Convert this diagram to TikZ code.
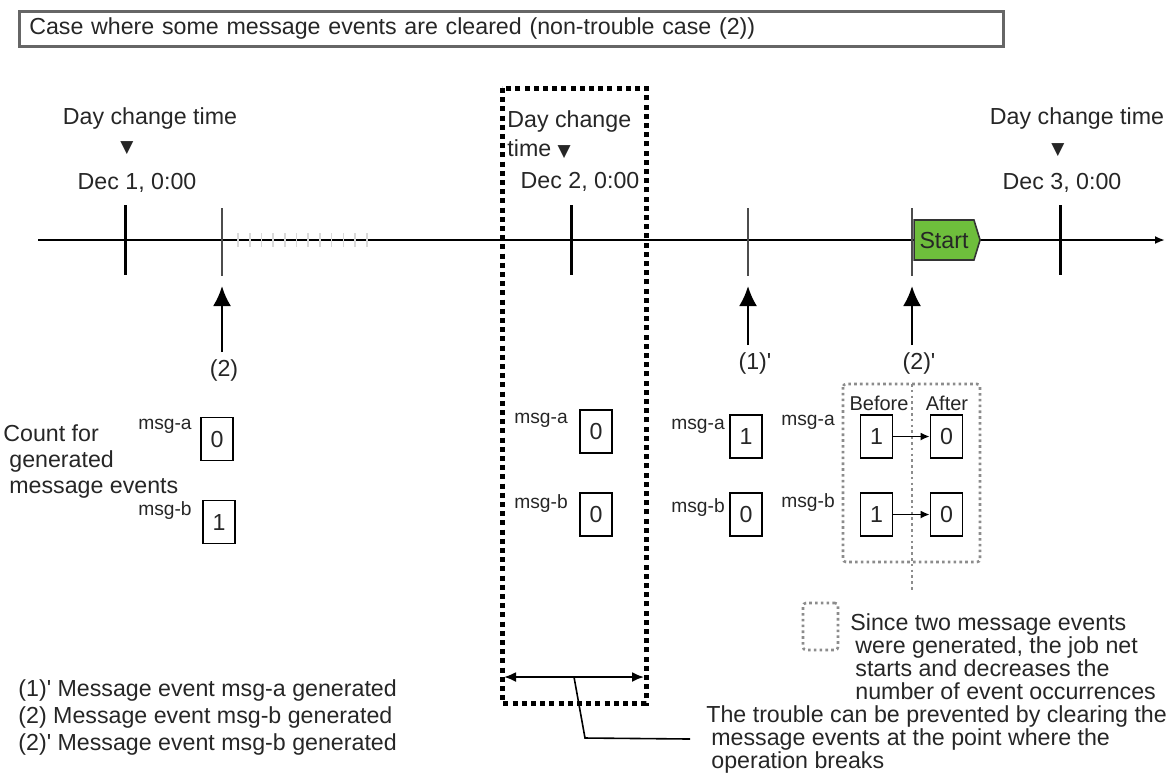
\documentclass[tikz,border=0pt]{standalone}
\usepackage{fontspec}
\setmainfont{Liberation Sans}
\newfontfamily\symfont{DejaVu Sans}
\usetikzlibrary{arrows.meta}
\usetikzlibrary{shapes.symbols}
\newcommand{\daymark}{{\symfont\fontsize{8.5}{8.5}\selectfont ▼}}
\newcommand{\prm}{\textquotesingle}

\begin{document}
\begin{tikzpicture}[x=0.5pt,y=-0.5pt,
font=\fontsize{11.6}{11.5}\selectfont,
text=black!85,
small/.style={font=\fontsize{9.6}{10}\selectfont},
tline/.style={line width=1pt},
daytick/.style={line width=1.5pt},
evtick/.style={line width=1pt,black!70},
evarrow/.style={line width=1.2pt,-{Latex[length=10pt,width=9pt]},shorten >=5pt},
cntbox/.style={draw,line width=0.8pt,minimum width=16pt,minimum height=21.5pt,inner sep=0pt},
cntarrow/.style={line width=0.9pt,-{Latex[length=4.5pt,width=4pt]}},
grpbox/.style={draw=gray!90,line width=1.3pt,dash pattern=on 1.3pt off 1.6pt,rounded corners=1.5pt},
brkbox/.style={line width=2.5pt,dash pattern=on 2.5pt off 2.1pt},
startsig/.style={signal,signal to=east,signal pointer angle=146,draw=black!80,line width=0.8pt,
  fill={rgb,255:red,110;green,190;blue,60},minimum width=33pt,minimum height=20pt,inner sep=1pt}
]
\useasboundingbox (0,0) rectangle (1170,773);
% title
\node[draw=black!60,line width=1.3pt,anchor=north west,minimum width=492pt,minimum height=16pt,
  text width=482pt,inner xsep=5pt,align=left] (title) at (18,10)
  {Case where some message events are cleared (non-trouble case (2))};
% time line
\draw[tline,-{Latex[length=5pt,width=4pt]}] (38,240) coordinate (tl0) -- (1165,240) coordinate (tl1);
\foreach \i in {0,...,11}
  \draw[black!15,line width=0.8pt] ({238+11.7*\i},233) -- ++(0,14);
\foreach \x/\n in {125/d1,571/d2,1060/d3}
  \draw[daytick] (\x,205) -- (\x,275) coordinate (\n);
\node[startsig] (start) at (944,240) {Start};
\foreach \x/\n in {222/e2,748/e1p,912/e2p}
  \draw[evtick] (\x,208) -- (\x,276) coordinate (\n);
% day change labels
\node (day1) at (150,118) {Day change time};
\node[inner sep=0] (mk1) at (127,148) {\daymark};
\node (dec1) at (137,183) {Dec 1, 0:00};
\node[anchor=north west,align=left,inner sep=0,font=\fontsize{11.6}{14.5}\selectfont] (day2) at (507,110)
  {Day change\\time \daymark};
\node (dec2) at (580,182) {Dec 2, 0:00};
\node (day3) at (1077,118) {Day change time};
\node[inner sep=0] (mk3) at (1058,150) {\daymark};
\node (dec3) at (1062,183) {Dec 3, 0:00};
% events
\node (lb2) at (224,370) {(2)};
\node (lb1p) at (755,363) {(1)\prm};
\node (lb2p) at (919,363) {(2)\prm};
\draw[evarrow] (lb2.north -| e2) -- (e2);
\draw[evarrow] (lb1p.north -| e1p) -- (e1p);
\draw[evarrow] (lb2p.north -| e2p) -- (e2p);
% counts
\node[anchor=north west,align=left,inner sep=0,font=\fontsize{11.6}{13}\selectfont] (cnt) at (3,424)
  {Count for\\\hspace{3pt}generated\\\hspace{3pt}message events};
\node[cntbox] (a1) at (217,439) {0};
\node[cntbox] (b1) at (219,522) {1};
\node[small] (a1l) at (165,426) {msg-a};
\node[small] (b1l) at (165,511) {msg-b};
\node[cntbox] (a2) at (596,431.5) {0};
\node[cntbox] (b2) at (596,514.5) {0};
\node[small] (a2l) at (541,420) {msg-a};
\node[small] (b2l) at (541,504) {msg-b};
\node[cntbox] (a3) at (746,436.5) {1};
\node[cntbox] (b3) at (746,514.5) {0};
\node[small] (a3l) at (698,426) {msg-a};
\node[small] (b3l) at (698,508) {msg-b};
% before / after
\draw[grpbox] (843,384) rectangle (980,562);
\draw[grpbox,rounded corners=0pt] (912,384) -- (912,592);
\node[font=\fontsize{10}{10}\selectfont] (bef) at (879,403) {Before};
\node[font=\fontsize{10}{10}\selectfont] (aft) at (947,403) {After};
\node[cntbox] (a4b) at (876.5,436.5) {1};
\node[cntbox] (b4b) at (876.5,514.5) {1};
\node[cntbox] (a4a) at (946.5,436.5) {0};
\node[cntbox] (b4a) at (946.5,514.5) {0};
\node[small] (a4l) at (808,422) {msg-a};
\node[small] (b4l) at (808,503) {msg-b};
\draw[cntarrow] (a4b) -- (a4a);
\draw[cntarrow] (b4b) -- (b4a);
% operation break
\draw[brkbox] (502,88) rectangle (646,703);
\draw[line width=1pt,{Latex[length=6pt,width=5pt]}-{Latex[length=6pt,width=5pt]}]
  (504,677) -- coordinate (brkM) (644,677);
\node[anchor=west,align=left,inner xsep=8pt] (trouble) at (690,739)
  {The trouble can be prevented by clearing the\\\hspace{2.5pt}message events at the point where the\\\hspace{2.5pt}operation breaks};
\draw[line width=0.8pt] (brkM) -- (585,738) -- (trouble.west);
% notes
\node[grpbox,minimum width=17.5pt,minimum height=23.5pt] (notebox) at (820.5,626.5) {};
\node[anchor=north west,align=left,inner sep=0] (note) at (850,613)
  {Since two message events\\\hspace{2.5pt}were generated, the job net\\\hspace{2.5pt}starts and decreases the\\\hspace{2.5pt}number of event occurrences};
\node[anchor=north west,align=left,inner sep=0,font=\fontsize{11.6}{13.5}\selectfont] (legend) at (18,679)
  {(1)\prm{} Message event msg-a generated\\(2) Message event msg-b generated\\(2)\prm{} Message event msg-b generated};
\end{tikzpicture}
\end{document}
